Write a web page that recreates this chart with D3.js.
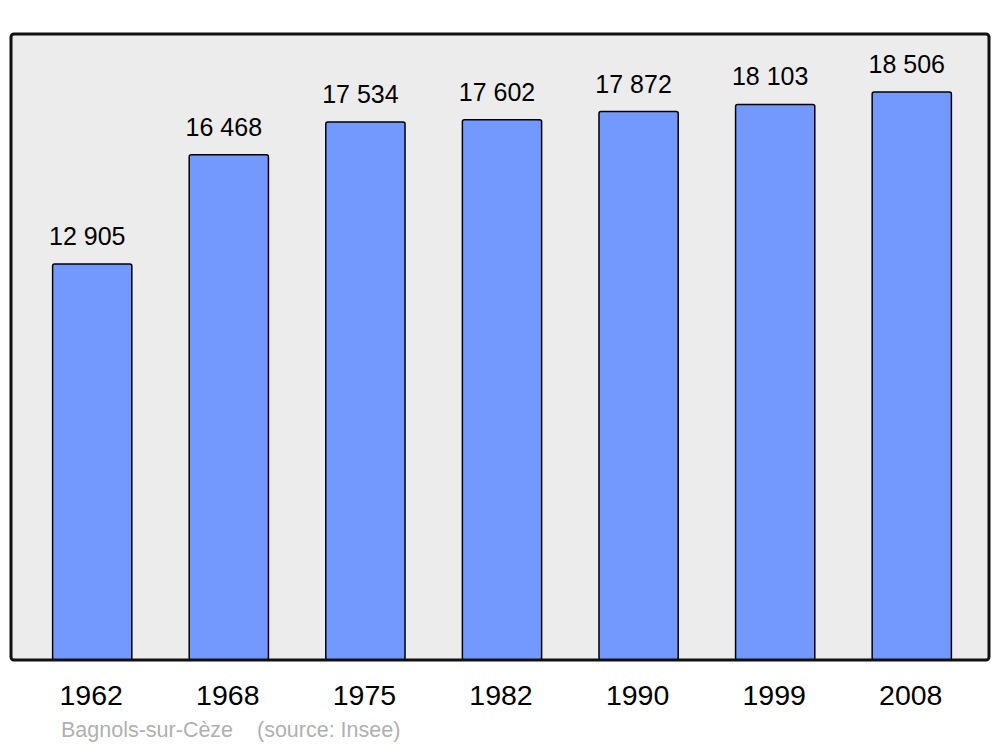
<!DOCTYPE html>
<html>
<head>
<meta charset="utf-8">
<script src="https://cdn.jsdelivr.net/npm/d3@7"></script>
<style>
  body { margin: 0; background: #fff; }
  text { font-family: "Liberation Sans", Arial, sans-serif; }
</style>
</head>
<body>
<div id="chart"></div>
<script>
const years = ['1962', '1968', '1975', '1982', '1990', '1999', '2008']
const population = [12905, 16468, 17534, 17602, 17872, 18103, 18506]
const town = 'Bagnols-sur-Cèze'
const source = '(source: Insee)'

const width = 1000
const height = 747
const panel = { x: 11, y: 34, w: 978, h: 626 }

const svg = d3.select('#chart').append('svg')
    .attr('width', width)
    .attr('height', height)

const x = d3.scaleBand()
    .domain(years)
    .range([13, 991])
    .paddingInner(0.42)
    .paddingOuter(0.29)

const y = d3.scaleLinear()
    .domain([0, 20400])
    .range([panel.y + panel.h, panel.y])

const fmt = (v) => d3.format(',')(v).replace(/,/g, ' ')

svg.append('rect')
    .attr('x', panel.x)
    .attr('y', panel.y)
    .attr('width', panel.w)
    .attr('height', panel.h)
    .attr('rx', 3)
    .attr('fill', '#ececec')

const data = years.map((yr, i) => ({ year: yr, value: population[i] }))

svg.selectAll('rect.bar')
    .data(data)
    .enter().append('rect')
    .attr('class', 'bar')
    .attr('x', (d) => x(d.year))
    .attr('y', (d) => y(d.value))
    .attr('width', x.bandwidth())
    .attr('height', (d) => y(0) - y(d.value))
    .attr('rx', 2)
    .attr('fill', '#7399ff')
    .attr('stroke', '#000')
    .attr('stroke-width', 1.5)

// value labels sit a little left of the bar centre, as in the original
svg.selectAll('text.value')
    .data(data)
    .enter().append('text')
    .attr('class', 'value')
    .attr('x', (d) => x(d.year) + x.bandwidth() / 2 - 5)
    .attr('y', (d) => y(d.value) - 19)
    .attr('text-anchor', 'middle')
    .attr('font-size', 25)
    .attr('fill', '#000')
    .text((d) => fmt(d.value))

// panel border drawn on top so bars sit inside it
svg.append('rect')
    .attr('x', panel.x)
    .attr('y', panel.y)
    .attr('width', panel.w)
    .attr('height', panel.h)
    .attr('rx', 3)
    .attr('fill', 'none')
    .attr('stroke', '#111')
    .attr('stroke-width', 3)

svg.selectAll('text.year')
    .data(years)
    .enter().append('text')
    .attr('class', 'year')
    .attr('x', (d) => x(d) + x.bandwidth() / 2 - 1)
    .attr('y', 705)
    .attr('text-anchor', 'middle')
    .attr('font-size', 28.5)
    .attr('fill', '#000')
    .text((d) => d)

svg.append('text')
    .attr('x', 61)
    .attr('y', 737)
    .attr('font-size', 21.5)
    .attr('fill', '#b0b0b0')
    .attr('xml:space', 'preserve')
    .style('white-space', 'pre')
    .text(town + '    ' + source)
</script>
</body>
</html>
